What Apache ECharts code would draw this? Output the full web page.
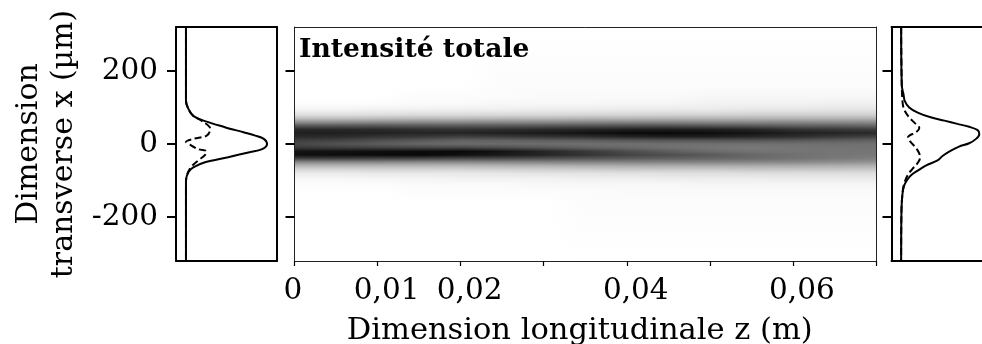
<!DOCTYPE html>
<html><head><meta charset="utf-8">
<style>html,body{margin:0;padding:0;background:#fff}#c{width:982px;height:344px}</style>
<script src="https://cdn.jsdelivr.net/npm/echarts@6/dist/echarts.min.js"></script></head>
<body><div id="c"></div>
<script>
var zStations=[0,.005,.01,.015,.02,.025,.03,.035,.04,.045,.05,.055,.06,.065,.07];
var xPositions=[160,130,110,95,80,70,60,50,40,30,20,10,0,-10,-20,-30,-40,-50,-60,-70,-80,-95,-110,-130,-160];
var col00=[0,0,1,4,12,25,44,66,84,88,84,76,72,78,92,94,74,46,28,16,8,3,1,0,0];
var col01=[0,0,1,4,12,25,44,66,84,88,83,74,68,76,93,95,74,46,28,16,8,3,1,0,0];
var col02=[0,0,1,5,13,26,45,66,83,87,80,70,64,74,94,96,73,46,28,17,9,4,1,0,0];
var col03=[0,1,2,5,14,27,45,65,81,86,78,66,60,73,95,97,72,45,28,17,9,4,2,1,0];
var col04=[0,1,2,6,14,27,45,65,80,86,75,62,58,72,96,94,70,45,28,17,9,5,2,1,0];
var col05=[1,1,3,6,15,28,46,65,81,88,77,62,58,70,92,90,70,46,29,18,10,5,2,1,0];
var col06=[1,2,3,7,15,28,46,66,83,90,80,63,57,66,85,86,68,47,30,19,11,5,3,1,0];
var col07=[1,2,3,7,16,29,47,67,85,93,82,64,56,62,78,80,66,48,31,20,11,6,3,1,1];
var col08=[1,2,4,8,16,29,47,68,87,96,86,66,56,59,70,74,64,48,32,21,12,6,3,2,1];
var col09=[1,2,4,8,17,30,47,68,88,97,88,67,56,56,63,70,62,48,32,21,12,7,3,2,1];
var col10=[1,3,5,8,17,30,46,66,87,95,88,67,56,54,58,65,60,48,32,21,12,7,4,2,1];
var col11=[1,3,5,9,18,30,46,65,85,92,85,67,56,53,55,60,58,47,32,22,13,7,4,2,1];
var col12=[1,3,5,9,18,30,46,62,80,88,82,66,56,54,54,56,55,46,32,22,13,8,4,2,1];
var col13=[1,3,6,10,18,30,45,62,78,86,78,64,57,55,54,54,52,44,31,22,13,8,4,2,1];
var col14=[1,3,6,10,18,30,45,60,76,84,74,62,56,55,54,53,50,42,30,21,13,8,4,2,1];
var columns=[col00,col01,col02,col03,col04,col05,col06,col07,col08,col09,col10,col11,col12,col13,col14];

var inPos=[320,118,96,77,64,46,32,23,14,0,-14,-23,-36,-50,-64,-77,-100,-320];
var inTotal=[0,0,.03,.09,.215,.48,.71,.855,.96,1,.94,.77,.52,.235,.09,.03,0,0];
var inPartPos=[320,118,96,77,64,41,23,14,6,-2,-14,-20,-30,-45,-64,-86,-110,-320];
var inPart=[0,0,.03,.09,.19,.3,.256,.09,0,.05,.15,.25,.235,.15,.06,.01,0,0];
var outPos=[320,160,136,118,100,86,73,64,55,47,38,27,14,2,-7,-18,-32,-45,-59,-73,-86,-100,-114,-137,-182,-320];
var outTotal=[-.004,.004,.025,.04,.095,.2,.36,.53,.69,.835,.94,.96,.92,.835,.71,.61,.51,.445,.3,.2,.115,.066,.033,.012,0,-.004];
var outPartPos=[320,160,109,91,73,59,44,34,18,7,-14,-36,-50,-68,-86,-109,-127,-182,-320];
var outPart=[-.004,.004,.016,.04,.095,.156,.22,.19,.08,.107,.19,.23,.206,.136,.074,.033,.016,0,-.004];

var zTickLabels=['0','0,01','0,02','','0,04','','0,06',''];
var xTickValues=[-200,0,200];

function pairs(a,b){return a.map(function(v,i){return [v,b[i]];});}
var F='"DejaVu Serif"',FS=29.5,BK='#000',THIN='#222';
function yAx(i,extra){return Object.assign({type:'value',gridIndex:i,min:-320,max:320,z:5,
  splitLine:{show:false},
  axisLine:{show:true,onZero:false,lineStyle:{color:i==1?THIN:BK,width:i==1?1:2}},
  axisTick:{show:true,length:9,lineStyle:{color:BK,width:2},customValues:xTickValues},
  axisLabel:{show:false}},extra||{});}
function xAx(i){return {type:'value',gridIndex:i,min:-.123,max:1.123,position:'bottom',z:5,
  splitLine:{show:false},axisTick:{show:false},axisLabel:{show:false},
  axisLine:{show:true,onZero:false,lineStyle:{color:BK,width:2}}};}
function frameX(i){return {type:'value',gridIndex:i,min:0,max:1,position:'top',z:5,
  splitLine:{show:false},axisTick:{show:false},axisLabel:{show:false},
  axisLine:{show:true,onZero:false,lineStyle:{color:i==1?THIN:BK,width:i==1?1:2}}};}
function frameY(i){return {type:'value',gridIndex:i,min:0,max:1,position:'right',z:5,
  splitLine:{show:false},axisTick:{show:false},axisLabel:{show:false},
  axisLine:{show:true,onZero:false,lineStyle:{color:i==1?THIN:BK,width:i==1?1:2}}};}
var ln=function(ax,a,b,dash){return {type:'line',xAxisIndex:ax,yAxisIndex:ax,data:pairs(a,b),smooth:.35,symbol:'none',clip:true,
  lineStyle:{color:BK,width:2,type:dash?[7,3.5]:'solid'},z:3};};
var gr=function(l,w){return {left:l,top:27,width:w,height:234,outerBoundsMode:'none',containLabel:false};};
function grad(i){
  var stops=[{offset:0,color:'#fff'}];
  xPositions.forEach(function(y,k){var g=Math.round(255*(1-columns[i][k]/100));
    stops.push({offset:(320-y)/640,color:'rgb('+g+','+g+','+g+')'});});
  stops.push({offset:1,color:'#fff'});
  return new echarts.graphic.LinearGradient(0,0,0,1,stops);
}
var option={animation:false,backgroundColor:'#fff',
 title:{text:'Intensité totale',left:299,top:37,padding:0,textStyle:{fontFamily:F,fontWeight:'bold',fontSize:26.6,color:BK}},
 grid:[gr(176,101),gr(294.5,581.5),gr(891.5,101)],
 xAxis:[xAx(0),{type:'value',gridIndex:1,min:0,max:.07,interval:.01,position:'bottom',z:5,
   name:'Dimension longitudinale z (m)',nameLocation:'middle',nameGap:55,nameTextStyle:{fontFamily:F,fontSize:30.5,color:BK,padding:[0,11,0,0]},
   splitLine:{show:false},axisTick:{length:5,lineStyle:{color:BK,width:1.2}},
   axisLine:{onZero:false,lineStyle:{color:THIN,width:1.2}},
   axisLabel:{showMinLabel:true,showMaxLabel:true,hideOverlap:false,margin:15,fontFamily:F,fontSize:FS,color:BK,
     rich:{c:{fontFamily:F,fontSize:FS,color:BK,padding:[0,0,0,18]},o:{fontFamily:F,fontSize:FS,color:BK,padding:[0,3,0,0]}},
     formatter:function(v,i){var t=zTickLabels[i];return t?(i===0?'{o|'+t+'}':'{c|'+t+'}'):'';}}},xAx(2),
   frameX(0),frameX(1),frameX(2)],
 yAxis:[yAx(0,{name:'Dimension\ntransverse x (µm)',nameLocation:'middle',nameRotate:90,nameGap:94,
     nameTextStyle:{fontFamily:F,fontSize:30,color:BK,lineHeight:35},
     axisLabel:{show:true,fontFamily:F,fontSize:FS,color:BK,margin:18,customValues:xTickValues,formatter:function(v){return String(v);}}}),yAx(1),yAx(2),
   frameY(0),frameY(1),frameY(2)],
 series:[
  ln(0,inTotal,inPos,false),ln(0,inPart,inPartPos,true),ln(2,outTotal,outPos,false),ln(2,outPart,outPartPos,true),
  {type:'custom',xAxisIndex:1,yAxisIndex:1,clip:true,z:1,
   data:zStations.slice(0,-1).map(function(z,i){return [z,i];}),encode:{x:0,y:[]},
   renderItem:function(params,api){
     var i=api.value(1);
     var a=api.coord([zStations[i],320]),b=api.coord([zStations[i+1],-320]);
     var x0=Math.round(a[0]),x1=Math.round(b[0]),h=b[1]-a[1],kids=[];
     var ga=grad(i),gb=grad(i+1);
     kids.push({type:'rect',shape:{x:x0,y:a[1],width:x1-x0,height:h},style:{fill:ga}});
     for(var x=x0;x<x1;x+=3){var w=Math.min(3,x1-x);
       kids.push({type:'rect',shape:{x:x,y:a[1],width:w,height:h},style:{fill:gb,opacity:(x+w/2-x0)/(x1-x0)}});}
     return {type:'group',children:kids};
   }}
 ]};
echarts.init(document.getElementById('c'),null,{renderer:'canvas'}).setOption(option);
</script></body></html>
